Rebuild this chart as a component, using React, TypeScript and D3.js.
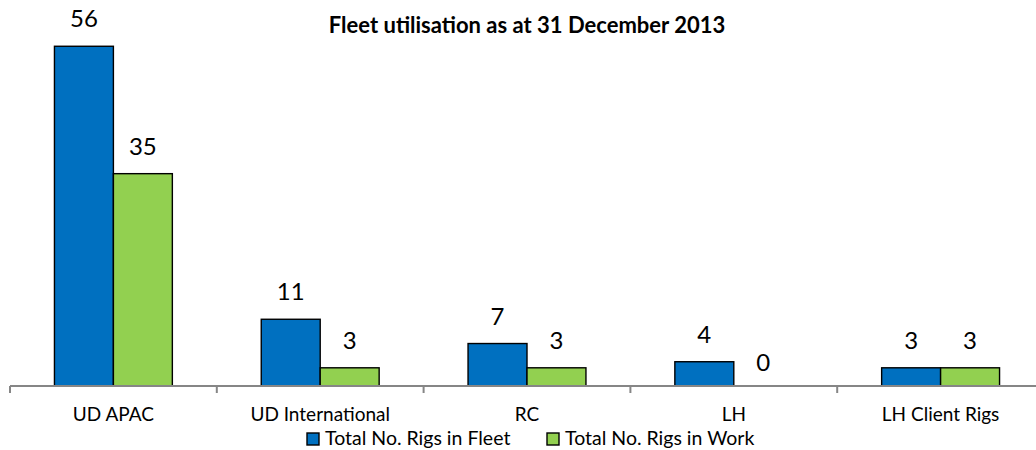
import { useEffect, useRef } from "react";
import * as d3 from "d3";

const categories = ["UD APAC", "UD International", "RC", "LH", "LH Client Rigs"];
const seriesNames = ["Total No. Rigs in Fleet", "Total No. Rigs in Work"];
const rigsInFleet = [56, 11, 7, 4, 3];
const rigsInWork = [35, 3, 3, 0, 3];
const seriesColors = ["#0070C0", "#92D050"];
const chartTitle = "Fleet utilisation as at 31 December 2013";

const W = 1036, H = 450;
const FONT = "Lato, 'Open Sans', sans-serif";

export default function App() {
  const ref = useRef<SVGSVGElement | null>(null);

  useEffect(() => {
    const svg = d3.select(ref.current);
    svg.selectAll("*").remove();

    const axisY = 386;
    const x0 = d3.scaleBand<string>()
      .domain(categories)
      .range([10, 10 + 5 * 206.8])
      .padding(0);
    const x1 = d3.scaleBand<string>()
      .domain(seriesNames)
      .range([0, x0.bandwidth()])
      .paddingInner(0)
      .paddingOuter(0.754);
    const y = d3.scaleLinear().domain([0, 60]).range([axisY, axisY - 364]);

    svg.append("rect").attr("width", W).attr("height", H).attr("fill", "#fff");

    // title
    svg.append("text")
      .attr("x", 527).attr("y", 33)
      .attr("text-anchor", "middle")
      .attr("font-family", FONT)
      .attr("font-weight", "bold")
      .attr("font-size", 22)
      .attr("fill", "#000")
      .text(chartTitle);

    const rows = categories.map((c, i) => ({ c, vals: [rigsInFleet[i], rigsInWork[i]] }));

    const g = svg.append("g");
    rows.forEach(r => {
      r.vals.forEach((v, si) => {
        const bx = x0(r.c)! + x1(seriesNames[si])!;
        if (v > 0) {
          g.append("rect")
            .attr("x", bx)
            .attr("y", y(v))
            .attr("width", x1.bandwidth())
            .attr("height", axisY - y(v))
            .attr("fill", seriesColors[si])
            .attr("stroke", "#000")
            .attr("stroke-width", 1.4);
        }
        g.append("text")
          .attr("x", bx + x1.bandwidth() / 2)
          .attr("y", y(v) - (v > 0 ? 19 : 15))
          .attr("text-anchor", "middle")
          .attr("font-family", FONT)
          .attr("font-size", 24)
          .attr("fill", "#000")
          .text(v);
      });
    });

    // category axis
    const axis = svg.append("g");
    axis.append("line")
      .attr("x1", 10).attr("x2", W)
      .attr("y1", axisY).attr("y2", axisY)
      .attr("stroke", "#868686").attr("stroke-width", 2);
    const bounds = categories.map(c => x0(c)!).concat([x0(categories[4])! + x0.bandwidth()]);
    bounds.forEach(bx => {
      axis.append("line")
        .attr("x1", bx).attr("x2", bx)
        .attr("y1", axisY).attr("y2", axisY + 7)
        .attr("stroke", "#868686").attr("stroke-width", 2);
    });
    categories.forEach(c => {
      axis.append("text")
        .attr("x", x0(c)! + x0.bandwidth() / 2)
        .attr("y", 421)
        .attr("text-anchor", "middle")
        .attr("font-family", FONT)
        .attr("font-size", 19)
        .attr("fill", "#000")
        .text(c);
    });

    // legend
    const legendX = [307, 547];
    seriesNames.forEach((s, i) => {
      svg.append("rect")
        .attr("x", legendX[i]).attr("y", 433)
        .attr("width", 12).attr("height", 12)
        .attr("fill", seriesColors[i])
        .attr("stroke", "#000").attr("stroke-width", 1.4);
      svg.append("text")
        .attr("x", legendX[i] + 18).attr("y", 445)
        .attr("font-family", FONT)
        .attr("font-size", 19.5)
        .attr("fill", "#000")
        .text(s);
    });
  }, []);

  return (
    <svg
      ref={ref}
      width={W}
      height={H}
      style={{ position: "absolute", left: 0, top: 0, display: "block" }}
    />
  );
}
